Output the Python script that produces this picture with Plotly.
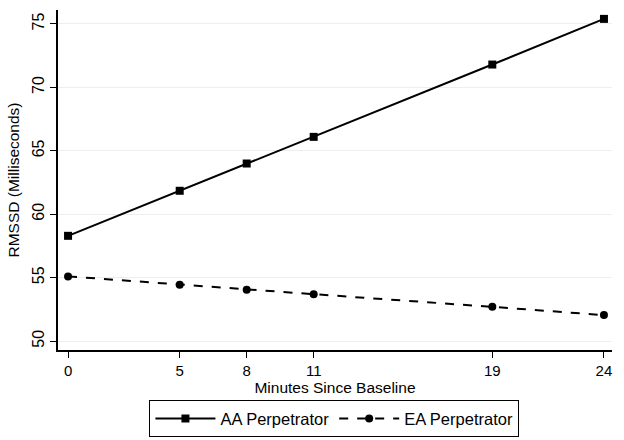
import plotly.graph_objects as go

minutes = [0, 5, 8, 11, 19, 24]
aa_perpetrator = [58.3, 61.85, 64.0, 66.1, 71.8, 75.4]
ea_perpetrator = [55.1, 54.45, 54.05, 53.7, 52.7, 52.05]
y_ticks = [50, 55, 60, 65, 70, 75]

font = "Liberation Sans, Arial, sans-serif"

fig = go.Figure()
fig.add_trace(go.Scatter(
    x=minutes, y=aa_perpetrator, name="AA Perpetrator", mode="lines+markers",
    line=dict(color="black", width=2),
    marker=dict(symbol="square", size=8, color="black"),
))
fig.add_trace(go.Scatter(
    x=minutes, y=ea_perpetrator, name="EA Perpetrator", mode="lines+markers",
    line=dict(color="black", width=2, dash="dash"),
    marker=dict(symbol="circle", size=8, color="black"),
))

fig.update_layout(
    width=624, height=440,
    margin=dict(l=58, r=12, t=10, b=90, autoexpand=False),
    paper_bgcolor="white", plot_bgcolor="white",
    font=dict(family=font, size=15, color="black"),
    showlegend=True,
    legend=dict(
        orientation="h", x=0.499, xanchor="center", y=-0.148, yanchor="top",
        bordercolor="black", borderwidth=1, bgcolor="white",
        font=dict(size=16.5), itemwidth=60,
    ),
    xaxis=dict(
        range=[-0.45, 24.36], tickvals=minutes, ticktext=[str(m) for m in minutes],
        showline=True, linecolor="black", linewidth=1.5,
        ticks="outside", ticklen=6, tickcolor="black",
        showgrid=False, zeroline=False, automargin=False,
        title=dict(text="Minutes Since Baseline", standoff=0, font=dict(size=15.5)),
        tickfont=dict(size=15),
    ),
    yaxis=dict(
        range=[49.3, 76.1], tickvals=y_ticks, tickangle=-90,
        showline=True, linecolor="black", linewidth=1.5,
        ticks="outside", ticklen=6, tickcolor="black",
        showgrid=True, gridcolor="#eeeeee", gridwidth=1, zeroline=False,
        automargin=False,
        title=dict(text="RMSSD (Milliseconds)", standoff=6, font=dict(size=15.5)),
        tickfont=dict(size=16),
    ),
)

fig.write_html(
    "out.html",
    config={"displayModeBar": False},
    post_script="document.body.style.margin='0';document.body.style.overflow='hidden';",
)
